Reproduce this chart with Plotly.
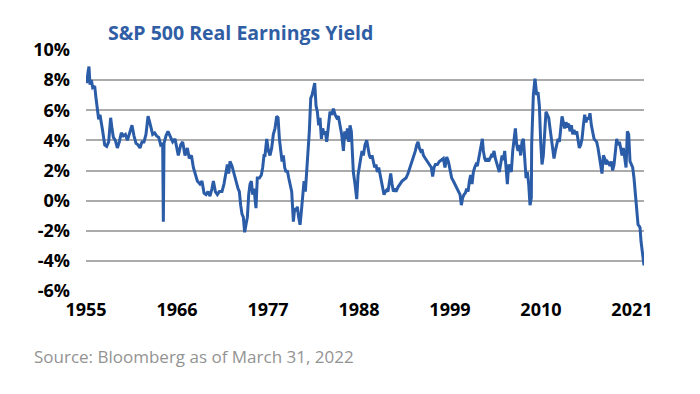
import plotly.graph_objects as go

years = [
    1955.00, 1955.08, 1955.24, 1955.36, 1955.48, 1955.65, 1955.81, 1956.05, 1956.21, 1956.37,
    1956.53, 1956.69, 1956.85, 1957.02, 1957.26, 1957.50, 1957.74, 1957.98, 1958.14, 1958.31,
    1958.55, 1958.79, 1959.03, 1959.27, 1959.51, 1959.76, 1960.00, 1960.24, 1960.56, 1960.80,
    1961.05, 1961.29, 1961.53, 1961.77, 1962.01, 1962.25, 1962.50, 1962.66, 1962.82, 1963.06,
    1963.30, 1963.54, 1963.79, 1964.03, 1964.27, 1964.35, 1964.43, 1964.67, 1964.91, 1965.16,
    1965.48, 1965.76, 1966.16, 1966.45, 1966.69, 1966.97, 1967.25, 1967.49, 1967.75, 1967.98,
    1968.22, 1968.46, 1968.78, 1969.02, 1969.27, 1969.51, 1969.75, 1969.99, 1970.23, 1970.40,
    1970.64, 1970.88, 1971.12, 1971.44, 1971.68, 1971.93, 1972.09, 1972.25, 1972.41, 1972.65,
    1972.89, 1973.14, 1973.38, 1973.54, 1973.70, 1973.86, 1974.02, 1974.18, 1974.34, 1974.51,
    1974.67, 1974.83, 1974.99, 1975.15, 1975.31, 1975.55, 1975.71, 1975.96, 1976.20, 1976.36,
    1976.52, 1976.64, 1976.85, 1977.05, 1977.25, 1977.45, 1977.65, 1977.85, 1978.06, 1978.22,
    1978.38, 1978.54, 1978.70, 1978.86, 1979.02, 1979.18, 1979.34, 1979.51, 1979.67, 1979.87,
    1980.07, 1980.23, 1980.39, 1980.55, 1980.71, 1980.88, 1981.04, 1981.20, 1981.36, 1981.52,
    1981.68, 1981.84, 1982.00, 1982.17, 1982.33, 1982.49, 1982.65, 1982.81, 1982.97, 1983.13,
    1983.29, 1983.46, 1983.62, 1983.78, 1983.94, 1984.10, 1984.30, 1984.50, 1984.70, 1984.91,
    1985.11, 1985.31, 1985.51, 1985.71, 1985.91, 1986.12, 1986.28, 1986.44, 1986.60, 1986.76,
    1986.92, 1987.08, 1987.32, 1987.52, 1987.73, 1987.89, 1988.05, 1988.21, 1988.37, 1988.53,
    1988.73, 1988.94, 1989.10, 1989.26, 1989.42, 1989.58, 1989.74, 1989.90, 1990.06, 1990.22,
    1990.39, 1990.55, 1990.71, 1990.87, 1991.03, 1991.19, 1991.35, 1991.51, 1991.68, 1991.84,
    1992.00, 1992.16, 1992.32, 1992.48, 1992.72, 1992.97, 1993.21, 1993.45, 1993.69, 1993.93,
    1994.17, 1994.42, 1994.66, 1994.82, 1994.98, 1995.14, 1995.30, 1995.46, 1995.62, 1995.79,
    1996.03, 1996.27, 1996.51, 1996.75, 1996.91, 1997.08, 1997.24, 1997.48, 1997.72, 1997.96,
    1998.20, 1998.40, 1998.61, 1998.81, 1999.01, 1999.21, 1999.41, 1999.61, 1999.82, 2000.02,
    2000.22, 2000.38, 2000.54, 2000.70, 2000.86, 2001.02, 2001.19, 2001.35, 2001.51, 2001.67,
    2001.83, 2001.99, 2002.15, 2002.31, 2002.47, 2002.64, 2002.80, 2002.92, 2003.04, 2003.20,
    2003.36, 2003.52, 2003.68, 2003.85, 2004.01, 2004.17, 2004.33, 2004.49, 2004.65, 2004.81,
    2004.97, 2005.13, 2005.30, 2005.46, 2005.62, 2005.78, 2005.94, 2006.10, 2006.26, 2006.42,
    2006.59, 2006.75, 2006.91, 2007.07, 2007.23, 2007.39, 2007.55, 2007.71, 2007.88, 2008.04,
    2008.20, 2008.36, 2008.52, 2008.68, 2008.84, 2008.88, 2009.08, 2009.28, 2009.49, 2009.65,
    2009.81, 2009.97, 2010.13, 2010.29, 2010.45, 2010.61, 2010.78, 2010.94, 2011.10, 2011.26,
    2011.42, 2011.58, 2011.74, 2011.90, 2012.07, 2012.23, 2012.39, 2012.55, 2012.71, 2012.87,
    2013.03, 2013.19, 2013.35, 2013.52, 2013.68, 2013.84, 2014.00, 2014.16, 2014.32, 2014.48,
    2014.64, 2014.81, 2014.97, 2015.13, 2015.29, 2015.45, 2015.61, 2015.77, 2015.93, 2016.10,
    2016.26, 2016.42, 2016.58, 2016.74, 2016.90, 2017.06, 2017.22, 2017.38, 2017.55, 2017.71,
    2017.87, 2018.03, 2018.19, 2018.35, 2018.51, 2018.67, 2018.84, 2019.00, 2019.16, 2019.32,
    2019.48, 2019.64, 2019.80, 2019.96, 2020.13, 2020.29, 2020.45, 2020.61, 2020.77, 2020.93,
    2021.09, 2021.25, 2021.41, 2021.58, 2021.74, 2021.90, 2021.98, 2022.10, 2022.26, 2022.38,
    2022.46,
]

real_yield = [
    8.2, 7.8, 8.5, 8.9, 7.7, 8.0, 7.5, 7.6, 6.8, 6.0,
    5.4, 5.7, 5.0, 4.6, 3.7, 3.6, 3.9, 5.5, 4.8, 4.2,
    4.0, 3.5, 3.9, 4.5, 4.3, 4.4, 4.0, 4.5, 5.0, 4.3,
    3.8, 3.7, 3.5, 3.9, 3.9, 4.4, 5.6, 5.3, 4.9, 4.4,
    4.5, 4.3, 4.2, 3.7, 3.8, -1.4, 3.8, 4.3, 4.6, 4.3,
    3.9, 4.1, 3.0, 3.7, 3.9, 3.0, 3.5, 2.8, 3.0, 2.2,
    1.7, 1.3, 1.1, 1.3, 0.5, 0.4, 0.6, 0.3, 0.8, 1.3,
    0.6, 0.4, 0.6, 0.6, 1.1, 1.9, 2.4, 1.8, 2.6, 2.3,
    1.7, 1.3, 0.8, 0.6, -0.3, -0.9, -1.1, -2.1, -1.6, -1.1,
    0.4, 1.1, 1.3, 0.4, 0.8, -0.5, 1.5, 1.5, 1.7, 2.2,
    3.0, 3.0, 4.1, 3.3, 3.0, 3.5, 4.4, 4.8, 5.6, 5.5,
    4.1, 3.5, 2.6, 3.0, 2.2, 1.9, 2.0, 1.5, 1.1, 0.6,
    -1.4, -0.5, -0.7, -0.4, -1.1, -1.6, -0.7, 0.2, 1.3, 0.6,
    1.9, 2.6, 4.6, 6.8, 7.0, 7.4, 7.8, 6.3, 5.9, 5.0,
    5.5, 4.1, 4.8, 4.4, 4.6, 3.9, 4.8, 5.9, 5.7, 6.1,
    5.7, 5.5, 5.6, 5.0, 4.4, 3.3, 4.6, 4.1, 4.8, 3.9,
    5.0, 4.6, 1.9, 1.1, 0.1, 1.7, 2.4, 2.8, 3.3, 3.0,
    3.7, 4.0, 3.5, 3.0, 2.8, 3.0, 2.6, 2.2, 2.4, 1.9,
    2.2, 1.7, 1.3, 0.8, 0.4, 0.6, 0.7, 0.6, 1.1, 1.8,
    1.1, 0.6, 0.8, 0.6, 0.9, 1.1, 1.3, 1.4, 1.5, 1.8,
    2.2, 2.6, 3.0, 3.3, 3.7, 3.9, 3.5, 3.3, 3.4, 3.0,
    2.8, 2.6, 2.4, 2.2, 1.6, 2.2, 2.4, 2.4, 2.6, 2.7,
    2.8, 2.2, 2.9, 2.6, 1.9, 1.5, 1.3, 1.1, 0.8, 0.6,
    0.4, -0.3, 0.2, 0.4, 0.5, 0.8, 0.6, 1.3, 1.7, 1.1,
    1.9, 2.2, 2.4, 2.3, 2.8, 3.3, 3.7, 4.1, 3.3, 2.8,
    2.6, 2.8, 2.6, 2.8, 3.0, 2.9, 3.3, 2.8, 2.4, 2.2,
    1.9, 2.6, 3.0, 2.7, 3.3, 2.2, 1.1, 2.4, 2.2, 1.9,
    3.3, 4.1, 4.8, 3.7, 3.3, 3.7, 3.0, 3.9, 4.1, 2.8,
    1.5, 1.9, 1.1, -0.3, 0.2, 3.7, 7.0, 8.1, 7.0, 7.2,
    6.3, 3.9, 2.4, 3.0, 4.8, 5.9, 5.7, 5.5, 4.8, 4.1,
    3.5, 2.8, 3.3, 3.7, 4.1, 3.9, 4.6, 5.6, 5.2, 4.8,
    5.2, 5.0, 5.1, 4.6, 5.0, 4.4, 4.7, 4.4, 4.6, 3.9,
    3.5, 3.7, 4.1, 5.0, 5.7, 5.2, 5.5, 5.4, 5.8, 5.0,
    4.4, 4.1, 4.0, 3.9, 3.5, 3.0, 2.4, 1.8, 3.0, 2.8,
    2.4, 2.6, 2.5, 2.3, 2.6, 2.0, 2.4, 3.3, 4.1, 3.7,
    3.9, 3.5, 3.0, 3.5, 2.8, 2.2, 4.6, 4.4, 2.6, 2.4,
    2.2, 1.5, 0.6, -0.7, -1.6, -1.7, -1.8, -2.7, -3.3, -4.0,
    -4.3,
]

x_tick_years = [1955, 1966, 1977, 1988, 1999, 2010, 2021]
y_ticks = [10, 8, 6, 4, 2, 0, -2, -4, -6]

title_text = "S&P 500 Real Earnings Yield"
source_text = "Source: Bloomberg as of March 31, 2022"

LINE_BLUE = "#2B5CA8"

fig = go.Figure()
fig.add_trace(go.Scatter(
    x=years, y=real_yield, mode="lines",
    line=dict(color=LINE_BLUE, width=3),
    hoverinfo="skip", showlegend=False,
))

fig.update_layout(
    width=700, height=394,
    margin=dict(l=86, r=56, t=50, b=103),
    paper_bgcolor="white", plot_bgcolor="white",
    title=dict(
        text=title_text, x=108 / 700, xanchor="left", xref="container",
        y=1 - 33 / 394, yanchor="middle",
        font=dict(family="Open Sans", size=19.5, color="#2F5EA5", weight="bold"),
    ),
    xaxis=dict(
        range=[1955.0, 2022.46],
        tickvals=x_tick_years,
        ticktext=[str(v) for v in x_tick_years],
        showgrid=False, zeroline=False, showline=False, ticks="",
        tickfont=dict(family="Open Sans", size=18, color="black", weight="bold"),
        ticklabelstandoff=6,
    ),
    yaxis=dict(
        range=[-6, 10],
        tickvals=y_ticks,
        ticktext=[f"{v}%" for v in y_ticks],
        showgrid=True, gridcolor="#ABABAB", gridwidth=1.5,
        zeroline=False, showline=False, ticks="",
        tickfont=dict(family="Open Sans", size=18, color="black", weight="bold"),
        ticklabelstandoff=15,
    ),
    annotations=[dict(
        text=source_text, xref="paper", yref="paper",
        x=(32 - 86) / 558, xanchor="left", y=(291.3 - 357) / 241.6, yanchor="middle",
        showarrow=False,
        font=dict(family="Open Sans", size=17, color="#939393"),
    )],
)

fig.write_html(
    "out.html",
    config={"displayModeBar": False},
    post_script="document.body.style.margin='0px';",
)
